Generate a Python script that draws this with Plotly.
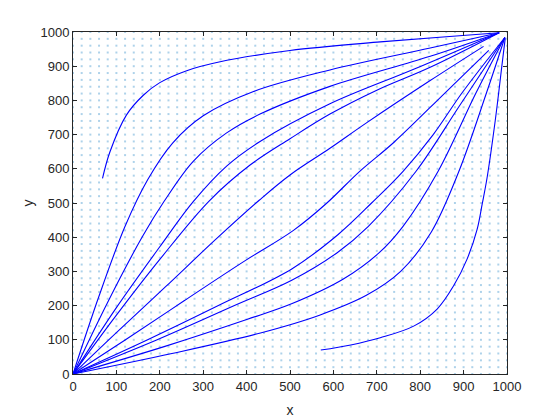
import plotly.graph_objects as go

# quiver grid positions (data units)
grid_ticks = [0, 20, 40, 60, 80, 100, 120, 140, 160, 180, 200, 220, 240, 260, 280, 300,
              320, 340, 360, 380, 400, 420, 440, 460, 480, 500, 520, 540, 560, 580, 600,
              620, 640, 660, 680, 700, 720, 740, 760, 780, 800, 820, 840, 860, 880, 900,
              920, 940, 960, 980, 1000]

tick_vals = [0, 100, 200, 300, 400, 500, 600, 700, 800, 900, 1000]

# streamlines above the diagonal (x, y)
u0_x = [68, 85, 123, 162, 200, 262, 339, 500, 708, 860, 982]
u0_y = [572, 649, 757, 815, 852, 887, 913, 946, 971, 986, 998]

u1_x = [0, 60, 120, 172, 230, 300, 416, 592, 823, 982]
u1_y = [0, 228, 432, 568, 676, 755, 826, 889, 953, 998]

u2_x = [0, 80, 160, 210, 277, 354, 431, 592, 823, 982]
u2_y = [0, 210, 402, 505, 622, 705, 760, 841, 929, 998]

u3_x = [0, 100, 200, 277, 354, 431, 592, 785, 982]
u3_y = [0, 194, 372, 504, 608, 680, 790, 891, 998]

u4_x = [0, 100, 200, 313, 408, 500, 592, 700, 823, 982]
u4_y = [0, 172, 335, 505, 611, 688, 760, 830, 897, 998]

u5_x = [0, 100, 214, 330, 429, 500, 592, 677, 823, 946]
u5_y = [0, 121, 256, 395, 508, 582, 660, 735, 858, 958]

# streamlines below the diagonal (x, y)
l0_x = [571, 640, 708, 785, 839, 877, 908, 931, 943, 954, 973, 990, 996]
l0_y = [70, 85, 106, 140, 190, 258, 336, 422, 498, 573, 742, 920, 982]

l1_x = [0, 228, 432, 568, 676, 755, 826, 889, 953, 995]
l1_y = [0, 60, 120, 172, 230, 300, 416, 592, 823, 984]

l2_x = [0, 210, 402, 505, 622, 705, 760, 841, 929, 995]
l2_y = [0, 80, 160, 206, 277, 354, 431, 592, 823, 984]

l3_x = [0, 194, 372, 504, 608, 680, 790, 891, 995]
l3_y = [0, 100, 200, 274, 354, 431, 592, 785, 984]

l4_x = [0, 172, 335, 505, 611, 688, 760, 830, 897, 995]
l4_y = [0, 100, 200, 308, 408, 500, 592, 700, 823, 984]

l5_x = [0, 121, 256, 395, 508, 585, 660, 739, 858, 958]
l5_y = [0, 100, 214, 330, 420, 500, 592, 677, 823, 946]

curves = [(u0_x, u0_y), (u1_x, u1_y), (u2_x, u2_y), (u3_x, u3_y), (u4_x, u4_y), (u5_x, u5_y),
          (l0_x, l0_y), (l1_x, l1_y), (l2_x, l2_y), (l3_x, l3_y), (l4_x, l4_y), (l5_x, l5_y)]

fig = go.Figure()

qx = [gx for gy in grid_ticks for gx in grid_ticks]
qy = [gy for gy in grid_ticks for gx in grid_ticks]
fig.add_trace(go.Scatter(
    x=qx, y=qy, mode="markers",
    marker=dict(symbol="square", size=2, color="rgba(0,114,189,0.32)", line=dict(width=0)),
    hoverinfo="skip", showlegend=False))

for cx, cy in curves:
    fig.add_trace(go.Scatter(x=cx, y=cy, mode="lines",
                             line=dict(color="rgb(0,0,255)", width=1.1, shape="spline", smoothing=1.0),
                             showlegend=False))

axis_common = dict(
    range=[0, 1000], tickvals=tick_vals, ticks="inside", ticklen=4, tickwidth=1,
    tickcolor="#262626", showline=True, linecolor="#262626", linewidth=1, mirror="ticks",
    showgrid=False, zeroline=False,
    tickfont=dict(family="Liberation Sans, Arial, sans-serif", size=13, color="#262626"),
)

fig.update_layout(
    width=560, height=420,
    margin=dict(l=65, r=61, t=24, b=54),
    paper_bgcolor="white", plot_bgcolor="white",
    xaxis=dict(**axis_common,
               title=dict(text="x", standoff=12,
                          font=dict(family="Liberation Sans, Arial, sans-serif", size=14, color="#262626"))),
    yaxis=dict(**axis_common,
               title=dict(text="y", standoff=3,
                          font=dict(family="Liberation Sans, Arial, sans-serif", size=14, color="#262626"))),
)

fig.write_html("out.html")
